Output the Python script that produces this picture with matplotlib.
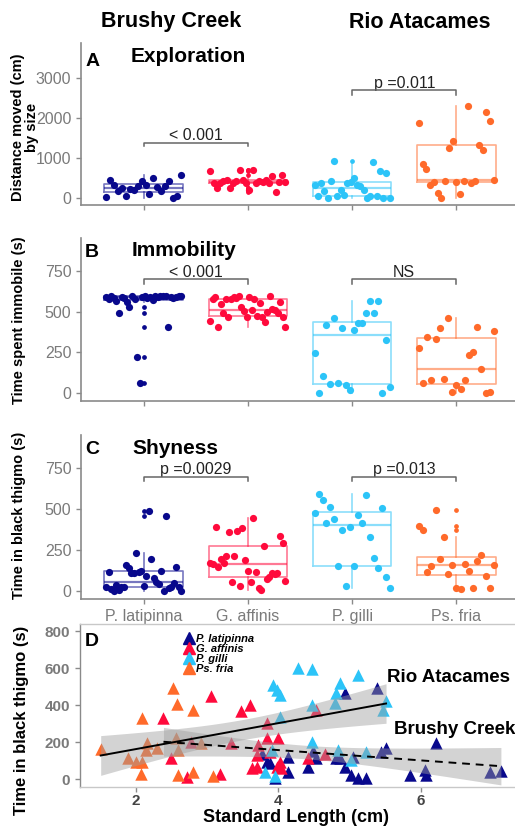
import numpy as np
import matplotlib
matplotlib.use("Agg")
import matplotlib.pyplot as plt
from matplotlib.lines import Line2D

plt.rcParams['font.family'] = ['Liberation Sans', 'DejaVu Sans']

# ---- data ----
species = ["P. latipinna", "G. affinis", "P. gilli", "Ps. fria"]
colors = ["#08088C", "#FF0A3C", "#2CC4F8", "#FF6A2A"]

# panel A: distance moved by size (cm), points listed left to right
expl_lat = [25, 458, 333, 167, 250, 42, 225, 208, 292, 417, 333, 100, 500, 267, 167, 292, 417, 0, 42, 583]
expl_aff = [667, 375, 250, 375, 417, 458, 250, 375, 417, 708, 458, 375, 208, 708, 375, 417, 392, 458, 375, 558, 142, 392, 583, 392]
expl_gil = [333, 42, 375, 167, 0, 417, 933, 42, 208, 83, 375, 392, 500, 333, 308, 192, 0, 42, 900, 42, 667, 0, 625, 0]
expl_fri = [1875, 858, 725, 333, 392, 125, 0, 417, 1250, 1417, 392, 108, 417, 2308, 375, 417, 1333, 1208, 2142, 1933, 458]

# panel B: time spent immobile (s)
immo_lat = [587, 575, 595, 581, 567, 489, 591, 581, 560, 526, 595, 575, 224, 61, 587, 595, 581, 587,
            571, 595, 587, 595, 595, 595, 404, 587, 581, 587, 595, 595]
immo_aff = [442, 575, 587, 404, 546, 489, 575, 465, 575, 587, 581, 595, 526, 505, 469, 587, 510, 575,
            473, 554, 465, 438, 499, 595, 514, 510, 489, 560, 465, 404]
immo_gil = [245, 4, 108, 418, 57, 459, 65, 397, 51, 20, 387, 428, 428, 493, 567, 493, 567, 0, 326, 41]
immo_fri = [275, 61, 346, 82, 330, 397, 86, 459, 10, 51, 24, 82, 234, 255, 404, 147, 4, 10, 383]

# panel C: time in black thigmo (s)
shy_lat = [22, 118, 10, 2, 37, 6, 22, 26, 159, 139, 112, 112, 230, 118, 124, 31, 94, 489, 194, 82,
           57, 43, 124, 2, 461, 20, 26, 51, 149, 26, 2]
shy_aff = [173, 165, 393, 149, 194, 169, 214, 363, 57, 214, 369, 33, 383, 190, 124, 57, 444, 118, 16,
           6, 275, 73, 84, 108, 104, 112, 336, 291, 61]
shy_gil = [475, 593, 556, 418, 516, 438, 155, 373, 31, 393, 153, 465, 414, 587, 328, 200, 139, 505, 88, 20]
shy_fri = [397, 373, 118, 153, 495, 194, 332, 105, 159, 20, 10, 163, 120, 20, 181, 220, 92, 16, 159]

# panel D: standard length (cm) vs time in black thigmo (s)
lat_sl = [3.77, 3.84, 3.88, 3.95, 4.14, 4.14, 4.42, 4.49, 4.53, 4.81, 4.86, 4.93, 4.93, 5.02, 5.05, 5.12,
          5.23, 5.38, 5.44, 5.51, 5.84, 6.05, 6.07, 6.21, 6.97, 7.12]
lat_thig = [133, 94, 85, 7, 121, 36, 63, 151, 115, 115, 112, 63, 463, 22, 121, 7, 4, 494, 148, 166,
            22, 49, 22, 193, 40, 43]
aff_sl = [2.39, 2.49, 2.72, 2.78, 3.05, 3.18, 3.33, 3.47, 3.61, 3.63, 3.70, 3.70, 3.72, 3.84, 3.84,
          3.88, 3.98, 4.0, 4.02, 4.04, 4.42, 4.53, 4.65]
aff_thig = [332, 112, 13, 202, 449, 25, 193, 368, 400, 61, 67, 130, 184, 301, 220, 144, 67, 220, 94,
            61, 112, 373, 133]
gil_sl = [3.81, 3.91, 3.93, 3.95, 3.98, 4.02, 4.02, 4.28, 4.47, 4.47, 4.47, 4.79, 4.81, 4.84, 4.86,
          5.02, 5.12, 5.23, 5.47, 5.51]
gil_thig = [40, 157, 508, 18, 481, 454, 337, 598, 593, 400, 202, 409, 463, 157, 517, 103, 562, 144,
            373, 422]
fri_sl = [1.51, 1.89, 2.0, 2.07, 2.09, 2.09, 2.14, 2.16, 2.30, 2.53, 2.56, 2.58, 2.60, 2.60, 2.80,
          2.81, 2.91, 3.09]
fri_thig = [162, 115, 94, 25, 94, 332, 157, 193, 166, 494, 220, 404, 157, 22, 40, 373, 193, 18]

# ---- figure ----
W, H = 515, 826
fig = plt.figure(figsize=(W / 100, H / 100), dpi=100)
TICK_GRAY = "#7a7a7a"
AX_GRAY = "#8a8a8a"


def px_axes(l, t, r, b):
    return fig.add_axes([l / W, 1 - b / H, (r - l) / W, (b - t) / H])


def style_axes(ax):
    for s in ["top", "right"]:
        ax.spines[s].set_visible(False)
    for s in ["left", "bottom"]:
        ax.spines[s].set_color(AX_GRAY)
        ax.spines[s].set_linewidth(1.2)
    ax.tick_params(colors=AX_GRAY, labelcolor=TICK_GRAY, labelsize=11.5, length=3.5, width=1)


def box_panel(ax, groups, ylim, yticks):
    for i, (vals, c) in enumerate(zip(groups, colors)):
        pos = i + 1
        lc = matplotlib.colors.to_rgba(c, 0.55)
        ax.boxplot([vals], positions=[pos], widths=0.75, showcaps=False,
                   boxprops=dict(color=lc, linewidth=1.2),
                   whiskerprops=dict(color=lc, linewidth=1.2),
                   medianprops=dict(color=lc, linewidth=1.6),
                   flierprops=dict(marker="o", markersize=2.4, markerfacecolor=c,
                                   markeredgecolor=c, linestyle="none"),
                   zorder=2)
        xs = pos + np.linspace(-0.36, 0.36, len(vals))
        ax.scatter(xs, vals, s=27, color=c, linewidths=0, zorder=3)
    ax.set_xlim(0.4, 4.6)
    ax.set_ylim(*ylim)
    ax.set_yticks(yticks)
    ax.set_xticks([1, 2, 3, 4])
    style_axes(ax)


def bracket(ax, x1, x2, y, drop, label, ty):
    ax.plot([x1, x1, x2, x2], [y - drop, y, y, y - drop], color="#666666", lw=1.1, zorder=4)
    ax.text((x1 + x2) / 2, ty, label, ha="center", va="center", fontsize=11.5, color="#222222")


# panel A
axA = px_axes(81, 43, 519, 205)
box_panel(axA, [expl_lat, expl_aff, expl_gil, expl_fri], (-175, 3875), [0, 1000, 2000, 3000])
axA.set_xticklabels([])
bracket(axA, 1, 2, 1375, 85, "< 0.001", 1560)
bracket(axA, 3, 4, 2690, 105, "p =0.011", 2860)

# panel B
axB = px_axes(81, 238, 519, 401)
box_panel(axB, [immo_lat, immo_aff, immo_gil, immo_fri], (-47, 950), [0, 250, 500, 750])
axB.set_xticklabels([])
bracket(axB, 1, 2, 697, 29, "< 0.001", 742)
bracket(axB, 3, 4, 697, 29, "NS", 742)

# panel C
axC = px_axes(81, 435, 519, 599)
box_panel(axC, [shy_lat, shy_aff, shy_gil, shy_fri], (-49, 953), [0, 250, 500, 750])
axC.set_xticklabels(species)
bracket(axC, 1, 2, 699, 27, "p =0.0029", 740)
bracket(axC, 3, 4, 699, 27, "p =0.013", 740)

# panel D
axD = px_axes(80, 624, 523, 787)
for sl, th, c in [(lat_sl, lat_thig, colors[0]), (aff_sl, aff_thig, colors[1]),
                  (gil_sl, gil_thig, colors[2]), (fri_sl, fri_thig, colors[3])]:
    axD.scatter(sl, th, marker="^", s=80, color=c, linewidths=0, zorder=2)


def lm_band(ax, x, y, ls):
    x = np.asarray(x, float)
    y = np.asarray(y, float)
    n = len(x)
    b, a = np.polyfit(x, y, 1)
    xs = np.linspace(x.min(), x.max(), 100)
    fit = a + b * xs
    resid = y - (a + b * x)
    s = np.sqrt(np.sum(resid ** 2) / (n - 2))
    se = s * np.sqrt(1 / n + (xs - x.mean()) ** 2 / np.sum((x - x.mean()) ** 2))
    ax.fill_between(xs, fit - 2.02 * se, fit + 2.02 * se, color="#9e9e9e", alpha=0.45,
                    linewidth=0, zorder=3)
    ax.plot(xs, fit, color="black", lw=1.4, ls=ls, zorder=4)


lm_band(axD, fri_sl + gil_sl, fri_thig + gil_thig, "-")
lm_band(axD, aff_sl + lat_sl, aff_thig + lat_thig, (0, (4, 3)))

axD.set_xlim(1.22, 7.43)
axD.set_ylim(-43, 838)
axD.set_xticks([2, 4, 6])
axD.set_yticks([0, 200, 400, 600, 800])
for s in axD.spines.values():
    s.set_color("#c8c8c8")
    s.set_linewidth(1.0)
axD.spines["left"].set_color(AX_GRAY)
axD.tick_params(colors=AX_GRAY, labelsize=11, length=3.5, width=1)
axD.tick_params(axis="x", pad=1.5)
for lbl in axD.get_yticklabels():
    lbl.set_color(TICK_GRAY)
    lbl.set_fontweight("bold")
for lbl in axD.get_xticklabels():
    lbl.set_color("#444444")
    lbl.set_fontweight("bold")

handles = [Line2D([], [], marker="^", ls="none", color=c, markersize=8) for c in colors]
axD.legend(handles, species, loc="upper left", bbox_to_anchor=(0.235, 0.94), frameon=False,
           prop=dict(size=8, weight="bold", style="italic"), labelspacing=0.0,
           handletextpad=0.15, handlelength=0.9, borderpad=0, borderaxespad=0)


# ---- texts ----
def ftext(x, y, s, **kw):
    fig.text(x / W, 1 - y / H, s, **kw)


ftext(171, 22, "Brushy Creek", ha="center", va="center", fontsize=15.5, weight="bold")
ftext(420, 22, "Rio Atacames", ha="center", va="center", fontsize=15.5, weight="bold")

ftext(93, 62, "A", ha="center", va="center", fontsize=14, weight="bold")
ftext(131, 56, "Exploration", ha="left", va="center", fontsize=15, weight="bold")
ftext(92, 252, "B", ha="center", va="center", fontsize=14, weight="bold")
ftext(132, 250, "Immobility", ha="left", va="center", fontsize=15, weight="bold")
ftext(92, 450, "C", ha="center", va="center", fontsize=14, weight="bold")
ftext(132, 448, "Shyness", ha="left", va="center", fontsize=15, weight="bold")
ftext(92, 642, "D", ha="center", va="center", fontsize=14, weight="bold")
ftext(387, 677, "Rio Atacames", ha="left", va="center", fontsize=13.5, weight="bold")
ftext(394, 730, "Brushy Creek", ha="left", va="center", fontsize=13.5, weight="bold")

ftext(25, 127, "Distance moved (cm)\nby size", ha="center", va="center", rotation=90,
      fontsize=10.5, weight="bold", linespacing=1.0)
ftext(19, 320, "Time spent immobile (s)", ha="center", va="center", rotation=90,
      fontsize=10.5, weight="bold")
ftext(19, 515, "Time in black thigmo (s)", ha="center", va="center", rotation=90,
      fontsize=10.5, weight="bold")
ftext(22, 720, "Time in black thigmo (s)", ha="center", va="center", rotation=90,
      fontsize=12, weight="bold")
ftext(296, 817, "Standard Length (cm)", ha="center", va="center", fontsize=13, weight="bold")

fig.savefig("out.png", dpi=100)
